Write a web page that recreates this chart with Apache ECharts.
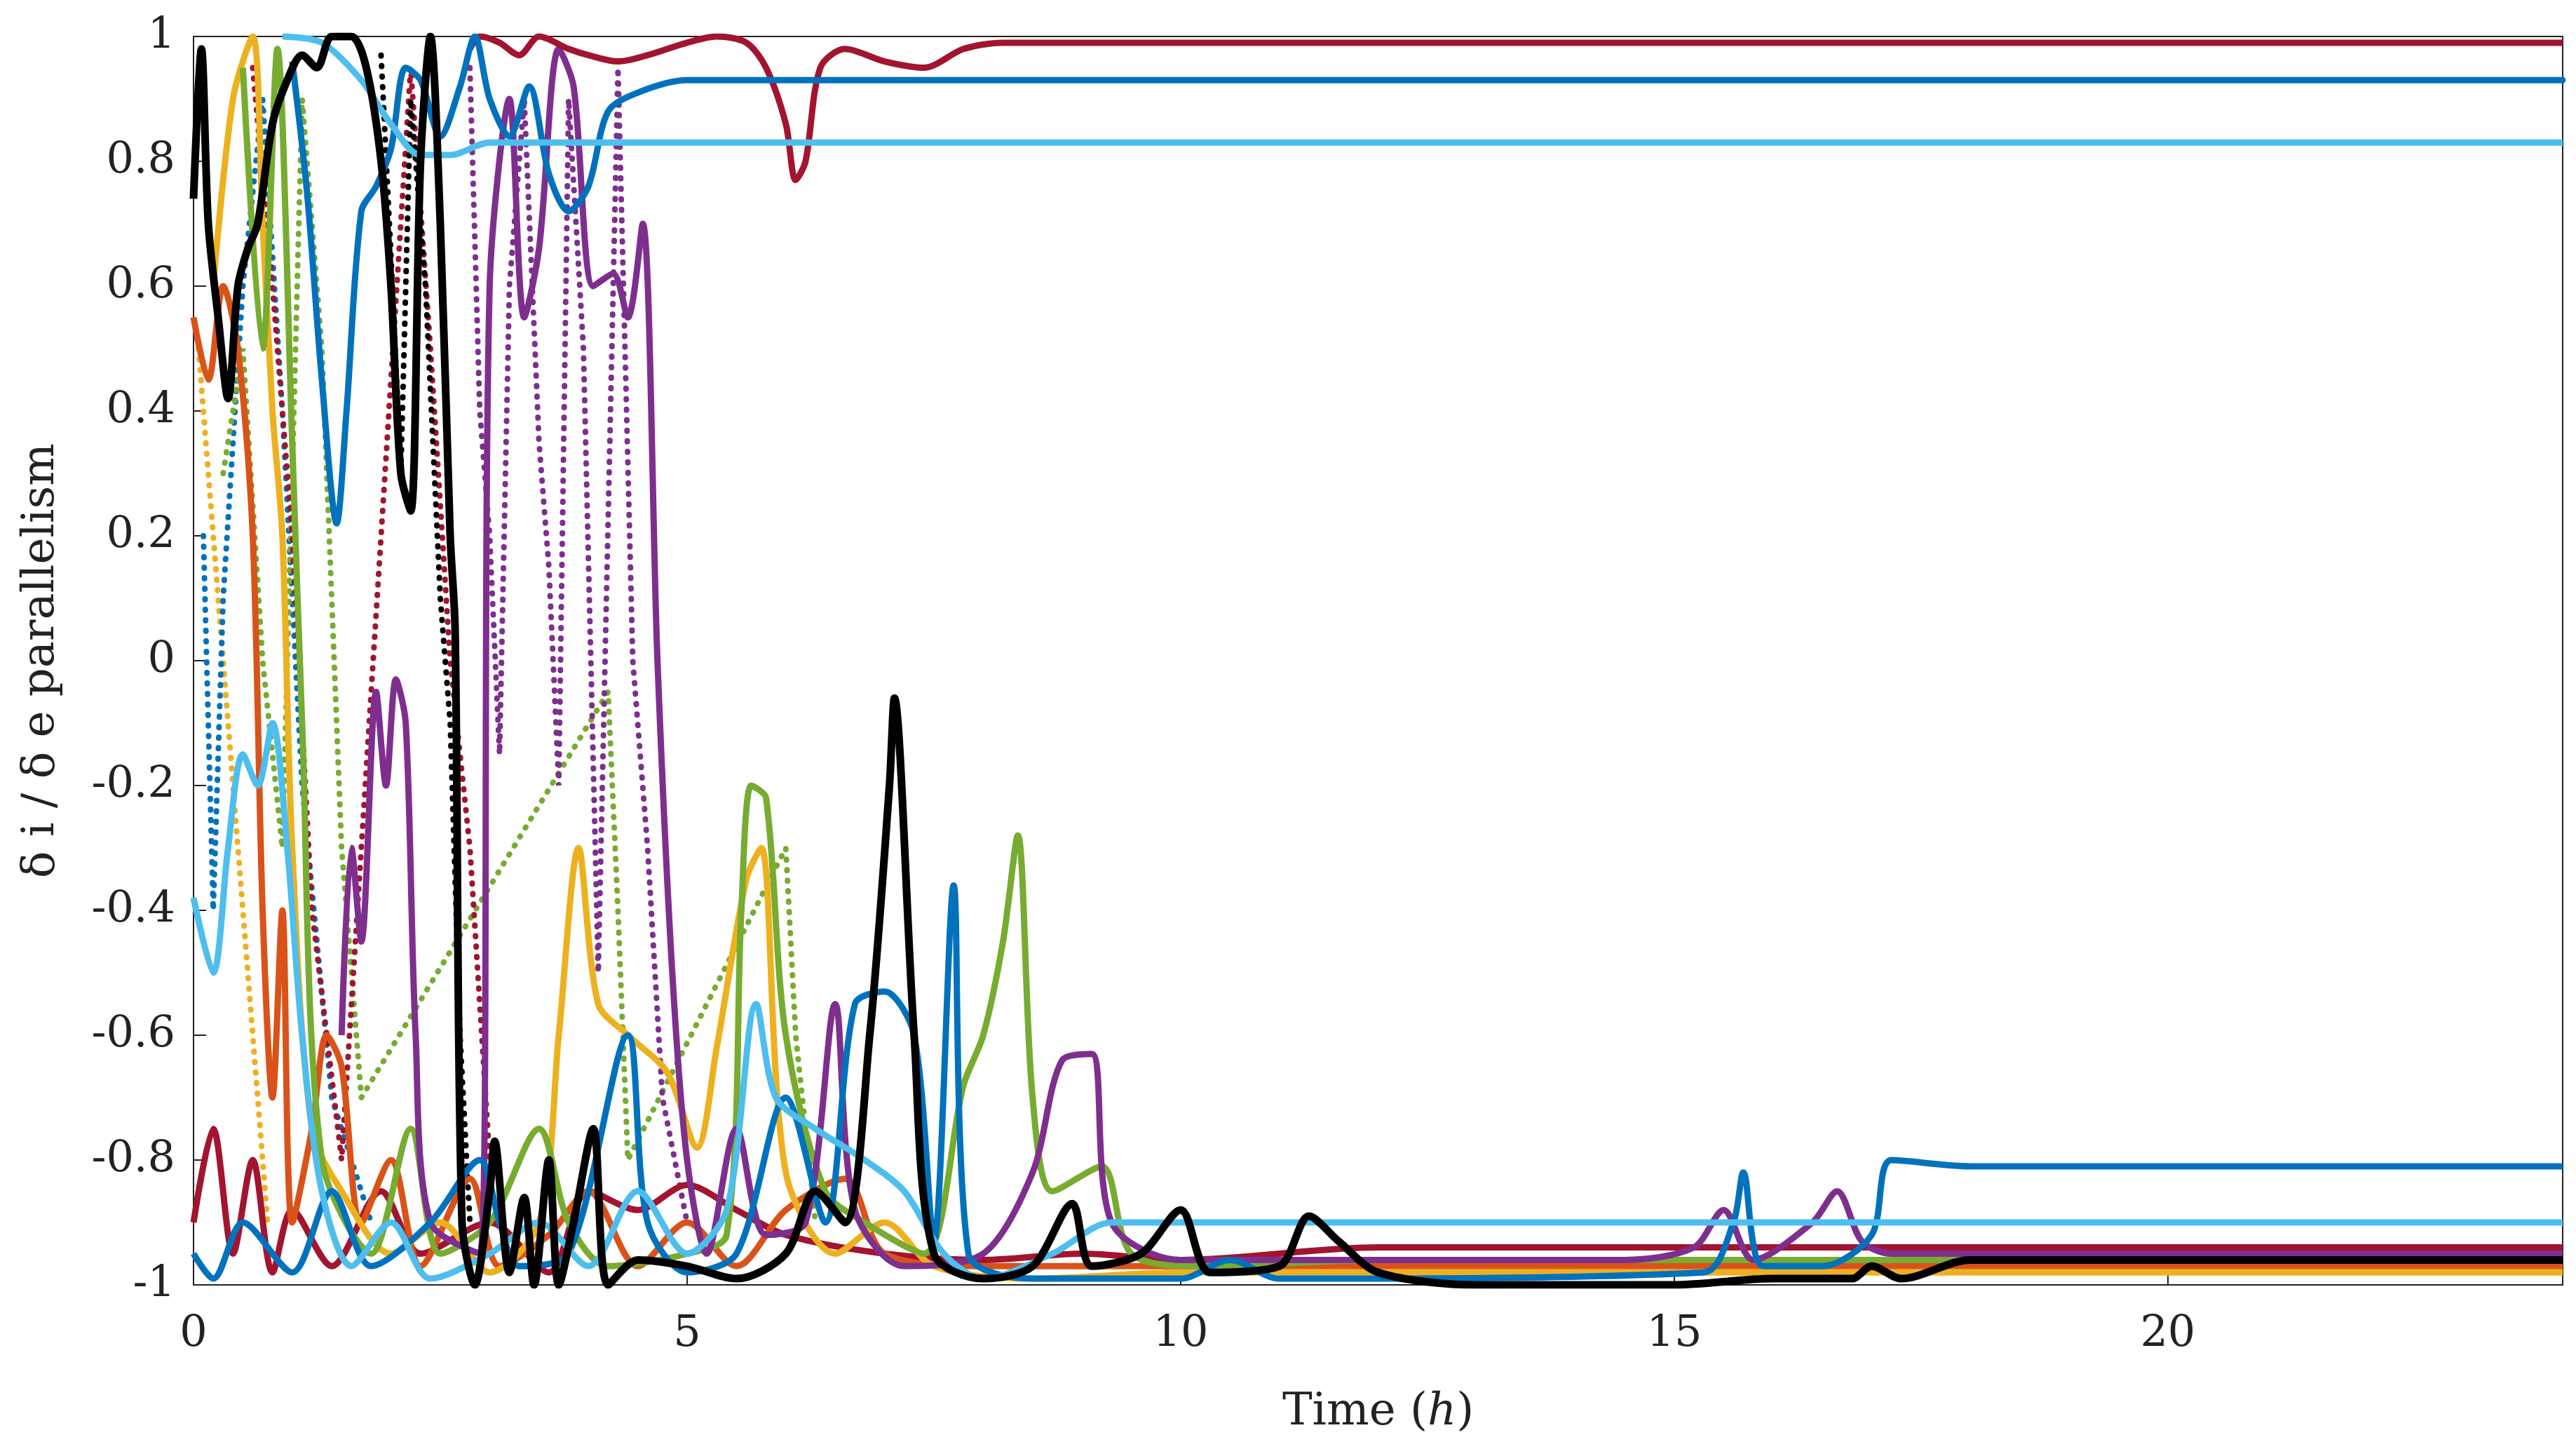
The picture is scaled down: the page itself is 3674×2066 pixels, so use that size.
<!DOCTYPE html>
<html>
<head>
<meta charset="utf-8">
<script src="https://cdn.jsdelivr.net/npm/echarts@6/dist/echarts.min.js"></script>
<style>html,body{margin:0;padding:0;background:#fff}#main{width:3674px;height:2066px}</style>
</head>
<body>
<div id="main"></div>
<script>
// colours (MATLAB default order + black)
var cBlue = '#0072BD', cOrange = '#D95319', cYellow = '#EDB120', cPurple = '#7E2F8E',
    cGreen = '#77AC30', cLight = '#4DBEEE', cRed = '#A2142F', cBlack = '#000000';

var xTicks = [0, 5, 10, 15, 20];
var yTicks = [-1, -0.8, -0.6, -0.4, -0.2, 0, 0.2, 0.4, 0.6, 0.8, 1];

// solid curves, [time h, value]
var redTop = [[2.8,0.98],[2.9,1.0],[3.1,0.99],[3.3,0.97],[3.5,1.0],[3.8,0.98],[4.0,0.97],[4.3,0.96],[4.6,0.97],[5.0,0.99],[5.3,1.0],[5.6,0.99],[5.8,0.95],[6.0,0.86],[6.1,0.77],[6.2,0.8],[6.35,0.95],[6.6,0.98],[7.0,0.96],[7.4,0.95],[7.8,0.98],[8.2,0.99],[24,0.99]];
var blueTop = [[1.0,0.96],[1.15,0.75],[1.3,0.45],[1.45,0.22],[1.55,0.4],[1.7,0.72],[1.85,0.76],[2.0,0.82],[2.15,0.95],[2.3,0.93],[2.5,0.84],[2.7,0.92],[2.85,1.0],[3.0,0.9],[3.2,0.84],[3.4,0.92],[3.6,0.78],[3.8,0.72],[4.0,0.76],[4.2,0.88],[4.5,0.91],[5.0,0.93],[6,0.93],[24,0.93]];
var lightTop = [[0.9,1.0],[1.3,0.99],[1.7,0.93],[2.0,0.86],[2.3,0.81],[2.6,0.81],[3.0,0.83],[4.0,0.83],[24,0.83]];
var blackMain = [[0,0.74],[0.08,0.98],[0.15,0.7],[0.25,0.55],[0.35,0.42],[0.45,0.6],[0.55,0.66],[0.65,0.7],[0.8,0.86],[0.95,0.93],[1.1,0.97],[1.25,0.95],[1.4,1.0],[1.6,1.0],[1.75,0.95],[1.9,0.8],[2.0,0.6],[2.1,0.3],[2.2,0.24],[2.3,0.8],[2.4,1.0],[2.5,0.7],[2.6,0.2],[2.65,0.05],[2.72,-0.9],[2.85,-1.0],[3.0,-0.85],[3.05,-0.77],[3.2,-0.98],[3.35,-0.86],[3.45,-1.0],[3.6,-0.8],[3.7,-1.0],[3.85,-0.9],[4.05,-0.75],[4.2,-1.0],[4.5,-0.96],[5.0,-0.97],[5.5,-0.99],[6.0,-0.95],[6.3,-0.85],[6.6,-0.9],[6.85,-0.6],[7.05,-0.2],[7.1,-0.06],[7.3,-0.6],[7.5,-0.95],[8.0,-0.99],[8.5,-0.97],[8.9,-0.87],[9.1,-0.97],[9.6,-0.95],[10.0,-0.88],[10.3,-0.98],[11.0,-0.97],[11.3,-0.89],[11.6,-0.93],[12.0,-0.98],[13.0,-1.0],[15.0,-1.0],[16.0,-0.99],[16.8,-0.99],[17.0,-0.97],[17.3,-0.99],[18.0,-0.96],[19.0,-0.96],[24,-0.96]];
var purpleMain = [[1.5,-0.6],[1.6,-0.3],[1.7,-0.45],[1.85,-0.05],[1.95,-0.2],[2.05,-0.03],[2.15,-0.1],[2.25,-0.6],[2.4,-0.9],[2.9,-0.95],[3.0,0.6],[3.2,0.9],[3.35,0.55],[3.5,0.66],[3.7,0.98],[3.85,0.92],[4.05,0.6],[4.25,0.62],[4.4,0.55],[4.55,0.7],[4.7,0.0],[4.85,-0.5],[5.0,-0.8],[5.2,-0.95],[5.5,-0.75],[5.8,-0.92],[6.2,-0.9],[6.5,-0.55],[6.7,-0.88],[7.2,-0.97],[8.0,-0.95],[8.5,-0.82],[8.8,-0.64],[9.1,-0.63],[9.3,-0.9],[10.0,-0.96],[14.5,-0.96],[15.2,-0.94],[15.5,-0.88],[15.8,-0.96],[16.4,-0.9],[16.65,-0.85],[16.9,-0.93],[17.2,-0.95],[24,-0.95]];
var blueLow = [[0,-0.95],[0.2,-0.99],[0.5,-0.9],[1.0,-0.98],[1.4,-0.85],[1.8,-0.97],[2.4,-0.9],[2.9,-0.8],[3.1,-0.9],[3.3,-0.97],[3.8,-0.95],[4.4,-0.6],[4.6,-0.9],[5.0,-0.98],[5.5,-0.95],[6.0,-0.7],[6.4,-0.9],[6.7,-0.55],[7.0,-0.53],[7.3,-0.6],[7.5,-0.93],[7.7,-0.36],[7.85,-0.95],[8.5,-0.99],[10,-0.99],[10.5,-0.96],[11,-0.99],[15.3,-0.98],[15.6,-0.9],[15.7,-0.82],[15.9,-0.97],[16.5,-0.97],[17.0,-0.92],[17.2,-0.8],[18.0,-0.81],[24,-0.81]];
var lightLow = [[0,-0.38],[0.2,-0.5],[0.35,-0.3],[0.5,-0.15],[0.65,-0.2],[0.8,-0.1],[0.95,-0.3],[1.1,-0.6],[1.3,-0.85],[1.6,-0.97],[2.0,-0.9],[2.4,-0.99],[3.0,-0.95],[3.5,-0.9],[4.0,-0.97],[4.5,-0.85],[5.0,-0.95],[5.4,-0.88],[5.7,-0.55],[5.9,-0.7],[6.3,-0.75],[6.8,-0.8],[7.2,-0.85],[7.6,-0.95],[8.0,-0.99],[8.7,-0.95],[9.3,-0.9],[10.0,-0.9],[24,-0.9]];
var greenMain = [[0.5,0.95],[0.7,0.5],[0.85,0.98],[1.0,0.35],[1.1,-0.1],[1.3,-0.8],[1.8,-0.95],[2.2,-0.75],[2.5,-0.95],[3.0,-0.9],[3.5,-0.75],[3.8,-0.9],[4.2,-0.97],[5.0,-0.95],[5.4,-0.92],[5.55,-0.4],[5.65,-0.2],[5.8,-0.22],[6.0,-0.6],[6.4,-0.85],[6.8,-0.9],[7.4,-0.95],[7.8,-0.68],[8.0,-0.6],[8.2,-0.45],[8.35,-0.28],[8.5,-0.7],[8.7,-0.85],[9.2,-0.81],[9.5,-0.95],[10.2,-0.97],[12,-0.96],[24,-0.96]];
var yellowMain = [[0.2,0.6],[0.4,0.9],[0.6,1.0],[0.7,0.7],[0.8,0.4],[0.9,0.2],[1.0,-0.3],[1.2,-0.75],[1.5,-0.85],[2.0,-0.95],[2.5,-0.9],[3.0,-0.98],[3.5,-0.9],[3.7,-0.6],[3.9,-0.3],[4.1,-0.55],[4.4,-0.6],[4.8,-0.66],[5.1,-0.78],[5.3,-0.62],[5.6,-0.35],[5.75,-0.3],[6.0,-0.82],[6.5,-0.95],[7.0,-0.9],[7.5,-0.97],[8.5,-0.99],[10,-0.98],[24,-0.98]];
var orangeMain = [[0,0.55],[0.15,0.45],[0.3,0.6],[0.45,0.5],[0.6,0.2],[0.7,-0.4],[0.8,-0.7],[0.9,-0.4],[1.0,-0.9],[1.2,-0.75],[1.35,-0.6],[1.5,-0.65],[1.7,-0.9],[2.0,-0.8],[2.3,-0.97],[2.8,-0.83],[3.1,-0.97],[3.6,-0.92],[4.0,-0.85],[4.5,-0.97],[5.0,-0.9],[5.5,-0.97],[6.0,-0.88],[6.6,-0.83],[7.0,-0.95],[8.0,-0.97],[24,-0.97]];
var redLow = [[0,-0.9],[0.2,-0.75],[0.4,-0.95],[0.6,-0.8],[0.8,-0.98],[1.0,-0.88],[1.4,-0.97],[1.9,-0.85],[2.3,-0.95],[3.0,-0.9],[3.6,-0.98],[4.0,-0.85],[4.5,-0.88],[5.0,-0.84],[5.5,-0.88],[6.0,-0.92],[7.0,-0.95],[8.0,-0.96],[9.0,-0.95],[10,-0.96],[12,-0.94],[24,-0.94]];

// dotted curves
var purpleDot = [[2.8,0.95],[2.9,0.4],[3.0,0.2],[3.1,-0.15],[3.2,0.6],[3.35,0.9],[3.5,0.35],[3.6,0.15],[3.7,-0.2],[3.8,0.9],[3.95,0.5],[4.1,-0.5],[4.3,0.95],[4.45,0.0],[4.6,-0.3],[4.75,-0.7],[5.0,-0.9]];
var blackDot = [[1.9,0.97],[2.0,0.65],[2.1,0.3],[2.2,0.9],[2.35,0.6],[2.5,0.1],[2.6,-0.1],[2.7,-0.6],[2.8,-0.9]];
var redDot = [[0.6,0.95],[0.8,0.6],[1.0,0.2],[1.2,-0.4],[1.5,-0.8],[2.2,0.95],[2.4,0.5],[2.6,0.0],[2.8,-0.3],[3.0,-0.8]];
var greenDot = [[0.3,0.3],[0.5,0.5],[0.7,0.0],[0.9,-0.3],[1.1,0.9],[1.3,0.5],[1.5,-0.3],[1.7,-0.7],[4.2,-0.05],[4.3,-0.4],[4.4,-0.8],[6.0,-0.3],[6.1,-0.6],[6.3,-0.9]];
var blueDot = [[0.1,0.2],[0.2,-0.4],[0.3,0.1],[0.5,0.6],[0.7,0.9],[0.9,0.4],[1.1,-0.2],[1.4,-0.7],[1.8,-0.9]];
var yellowDot = [[0.05,0.5],[0.15,0.3],[0.3,0.0],[0.45,-0.3],[0.6,-0.6],[0.75,-0.9]];

function solid(d, c, w) {
  return { type: 'line', data: d, showSymbol: false, smooth: 0.3, color: c,
           lineStyle: { color: c, width: w || 9 }, animation: false };
}
function dotted(d, c) {
  return { type: 'line', data: d, showSymbol: false, color: c,
           lineStyle: { color: c, width: 8, type: [1, 14], cap: 'round' }, animation: false };
}

var font = 'DejaVu Serif';
var myChart = echarts.init(document.getElementById('main'));
var option = {
  backgroundColor: '#fff',
  grid: { left: 276, right: 19, top: 52, bottom: 234, show: true, borderColor: '#222', borderWidth: 2 },
  xAxis: {
    type: 'value', min: 0, max: 24, interval: 5,
    name: 'Time ({i|h})', nameLocation: 'middle', nameGap: 150,
    nameTextStyle: { fontFamily: font, fontSize: 64, color: '#222',
      rich: { i: { fontFamily: font, fontSize: 64, fontStyle: 'italic', color: '#222' } } },
    axisLine: { onZero: false, lineStyle: { color: '#222', width: 2 } },
    axisTick: { inside: true, length: 18, lineStyle: { color: '#222', width: 2 } },
    axisLabel: { fontFamily: font, fontSize: 62, color: '#222', margin: 40,
      formatter: function (v) { return xTicks.indexOf(v) >= 0 ? String(v) : ''; } },
    splitLine: { show: false }
  },
  yAxis: {
    type: 'value', min: -1, max: 1, interval: 0.2,
    name: 'δ i / δ e parallelism', nameLocation: 'middle', nameGap: 185,
    nameTextStyle: { fontFamily: font, fontSize: 64, color: '#222' },
    axisLine: { onZero: false, lineStyle: { color: '#222', width: 2 } },
    axisTick: { inside: true, length: 18, lineStyle: { color: '#222', width: 2 } },
    axisLabel: { fontFamily: font, fontSize: 62, color: '#222', margin: 26,
      formatter: function (v) {
        var r = Math.round(v * 10) / 10;
        return yTicks.indexOf(r) >= 0 ? String(r) : '';
      } },
    splitLine: { show: false }
  },
  series: [
    dotted(yellowDot, cYellow), dotted(blueDot, cBlue), dotted(greenDot, cGreen),
    dotted(redDot, cRed), dotted(purpleDot, cPurple), dotted(blackDot, cBlack),
    solid(redLow, cRed), solid(orangeMain, cOrange), solid(yellowMain, cYellow),
    solid(greenMain, cGreen), solid(purpleMain, cPurple), solid(blueLow, cBlue),
    solid(lightLow, cLight), solid(redTop, cRed), solid(blueTop, cBlue),
    solid(lightTop, cLight), solid(blackMain, cBlack, 11)
  ]
};
myChart.setOption(option);
</script>
</body>
</html>
